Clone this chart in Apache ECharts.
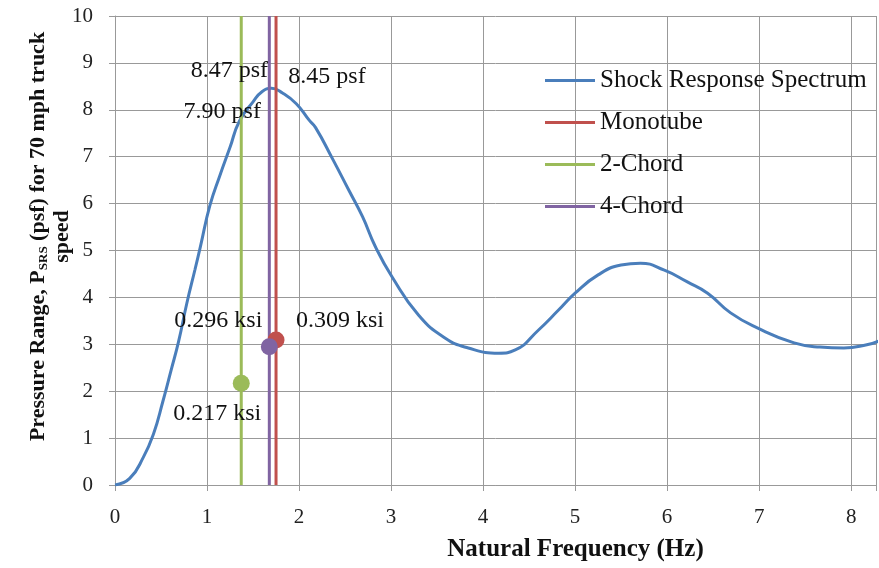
<!DOCTYPE html>
<html>
<head>
<meta charset="utf-8">
<script src="https://cdn.jsdelivr.net/npm/echarts@6/dist/echarts.min.js"></script>
<style>
  html, body { margin: 0; padding: 0; background: #fff; }
  #chart { width: 879px; height: 568px; }
</style>
</head>
<body>
<div id="chart"></div>
<script>
// shock response spectrum, [frequency Hz, pressure psf]
const srsCurve = [
  [0, 0], [0.16, 0.14], [0.31, 0.6], [0.42, 1.1], [0.52, 1.78], [0.61, 2.45],
  [0.69, 3.05], [0.78, 3.87], [0.87, 4.6], [0.93, 5.1], [1.03, 5.95], [1.14, 6.6],
  [1.25, 7.2], [1.35, 7.75], [1.5, 8.17], [1.6, 8.39], [1.7, 8.46], [1.82, 8.36],
  [1.97, 8.13], [2.11, 7.78], [2.18, 7.62], [2.36, 6.97], [2.54, 6.29], [2.69, 5.72],
  [2.83, 5.08], [3.01, 4.44], [3.3, 3.62], [3.59, 3.13], [3.84, 2.92],
  [4.17, 2.81], [4.35, 2.88], [4.6, 3.3], [4.82, 3.73], [5.0, 4.09], [5.25, 4.48],
  [5.5, 4.69], [5.71, 4.73], [5.97, 4.58], [6.22, 4.33], [6.44, 4.09], [6.69, 3.67],
  [6.98, 3.35], [7.38, 3.03], [7.66, 2.94], [7.92, 2.92], [8.17, 2.99], [8.3, 3.07]
];

const memberNames = ["Monotube", "2-Chord", "4-Chord"];
const memberFreq = [1.75, 1.372, 1.677];
const peakPsf = [8.45, 7.9, 8.47];
const peakLabels = ["8.45 psf", "7.90 psf", "8.47 psf"];
const dotPsf = [3.09, 2.17, 2.95];
const dotLabels = ["0.309 ksi", "0.217 ksi", "0.296 ksi"];
const yRange = [0, 10];

const colors = ["#c0504d", "#9bbb59", "#8064a2"];
const peakOffsets = [[51, -12], [-19, -3], [-40, -17]];
const dotOffsets = [[64, -19], [-24, 30], [-51, -26]];

const serif = "Liberation Serif";
const chart = echarts.init(document.getElementById("chart"));

const memberLines = memberNames.map((name, i) => ({
  name: name,
  type: "line",
  symbol: "none",
  data: yRange.map(y => [memberFreq[i], y]),
  lineStyle: { color: colors[i], width: 3 },
  itemStyle: { color: colors[i] },
  z: 3
}));

const option = {
  animation: false,
  backgroundColor: "#fff",
  grid: { left: 115, right: 0, top: 16, bottom: 83 },
  legend: {
    data: ["Shock Response Spectrum", "Monotube", "2-Chord", "4-Chord"],
    orient: "vertical",
    left: 540,
    top: 63,
    icon: "rect",
    itemWidth: 50,
    itemHeight: 3,
    itemGap: 17,
    textStyle: { fontFamily: serif, fontSize: 25, color: "#111" }
  },
  xAxis: {
    type: "value",
    min: 0,
    max: 8.27,
    interval: 1,
    name: "Natural Frequency (Hz)",
    nameLocation: "middle",
    nameGap: 52,
    nameMoveOverlap: false,
    nameTextStyle: {
      fontFamily: serif, fontWeight: "bold", fontSize: 25, color: "#111",
      padding: [0, 0, 0, 160]
    },
    axisLine: { lineStyle: { color: "#999" } },
    axisTick: { length: 6, lineStyle: { color: "#999" } },
    axisLabel: {
      fontFamily: serif, fontSize: 21, color: "#222", margin: 22,
      formatter: v => (Number.isInteger(v) ? String(v) : "")
    },
    splitLine: { show: true, lineStyle: { color: "#999" } }
  },
  yAxis: {
    type: "value",
    min: 0,
    max: 10,
    interval: 1,
    name: "{a|Pressure Range, P}{sub|SRS}{a| (psf) for 70 mph truck}\n{a|speed}",
    nameLocation: "middle",
    nameGap: 41,
    nameMoveOverlap: false,
    nameTextStyle: {
      padding: [0, 0, 0, 28],
      rich: {
        a: { fontFamily: serif, fontWeight: "bold", fontSize: 22, lineHeight: 24, color: "#111" },
        sub: { fontFamily: serif, fontWeight: "bold", fontSize: 13, lineHeight: 24, color: "#111", verticalAlign: "bottom" }
      }
    },
    axisLine: { show: true, lineStyle: { color: "#999" } },
    axisTick: { show: true, length: 6, lineStyle: { color: "#999" } },
    axisLabel: { fontFamily: serif, fontSize: 21, color: "#222", margin: 22 },
    splitLine: { lineStyle: { color: "#999" } }
  },
  series: [
    {
      name: "Shock Response Spectrum",
      type: "line",
      smooth: 0.5,
      symbol: "none",
      data: srsCurve,
      lineStyle: { color: "#4a7ebb", width: 3 },
      itemStyle: { color: "#4a7ebb" },
      z: 2
    },
    ...memberLines,
    {
      name: "peak labels",
      type: "scatter",
      symbolSize: 0,
      z: 4,
      data: memberFreq.map((x, i) => ({
        value: [x, peakPsf[i]],
        itemStyle: { color: "transparent", opacity: 1 },
        label: {
          show: true,
          formatter: peakLabels[i],
          position: "inside",
          offset: peakOffsets[i],
          fontFamily: serif,
          fontSize: 24,
          color: "#111"
        }
      }))
    },
    {
      name: "stress points",
      type: "scatter",
      symbolSize: 17,
      z: 5,
      data: memberFreq.map((x, i) => ({
        value: [x, dotPsf[i]],
        itemStyle: { color: colors[i], opacity: 1 },
        label: {
          show: true,
          formatter: dotLabels[i],
          position: "inside",
          offset: dotOffsets[i],
          fontFamily: serif,
          fontSize: 24,
          color: "#111"
        }
      }))
    }
  ]
};

chart.setOption(option);
</script>
</body>
</html>
